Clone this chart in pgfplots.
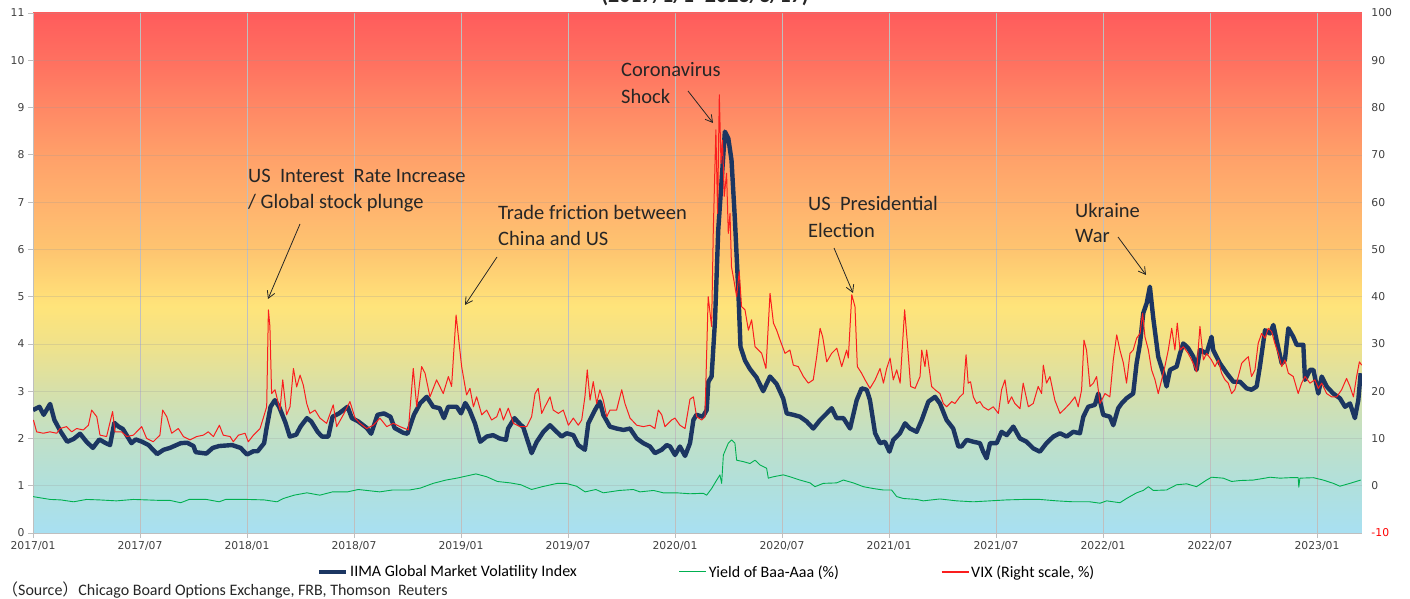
\documentclass[border=0pt]{standalone}
\usepackage{pgfplots}
\pgfplotsset{compat=1.18}
\usepackage{fontspec}
\setmainfont{Carlito}
\newfontfamily\tickfont{DejaVu Sans}
\newfontfamily\cjk{Noto Sans CJK JP}
\usetikzlibrary{arrows.meta}

\definecolor{navy}{RGB}{28,54,98}
\definecolor{vixred}{RGB}{250,30,30}
\definecolor{yldgreen}{RGB}{0,176,80}
\definecolor{tickgray}{RGB}{64,64,64}
\definecolor{gridgray}{RGB}{191,191,191}
\definecolor{annot}{RGB}{38,38,38}

\pgfdeclareverticalshading{bggrad}{100bp}{%
rgb(0bp)=(0.659,0.878,0.949);%
rgb(25bp)=(0.659,0.878,0.949);%
rgb(29.55bp)=(0.690,0.878,0.863);%
rgb(34.09bp)=(0.753,0.878,0.784);%
rgb(38.64bp)=(0.839,0.878,0.667);%
rgb(43.18bp)=(0.941,0.886,0.541);%
rgb(46.82bp)=(1.0,0.894,0.478);%
rgb(52.27bp)=(0.996,0.769,0.439);%
rgb(56.82bp)=(1.0,0.698,0.431);%
rgb(61.36bp)=(1.0,0.627,0.412);%
rgb(65.91bp)=(1.0,0.533,0.396);%
rgb(70.45bp)=(1.0,0.439,0.376);%
rgb(75bp)=(1.0,0.361,0.361);%
rgb(100bp)=(1.0,0.361,0.361)}

\begin{document}
\begin{tikzpicture}
\begin{axis}[
  scale only axis, width=1329pt, height=520pt,
  at={(0pt,0pt)}, anchor=south west,
  xmin=2017, xmax=2023.21, ymin=0, ymax=11,
  axis background/.style={shading=bggrad},
  xtick={2017,2017.5,2018,2018.5,2019,2019.5,2020,2020.5,2021,2021.5,2022,2022.5,2023},
  xticklabels={2017/01,2017/07,2018/01,2018/07,2019/01,2019/07,2020/01,2020/07,2021/01,2021/07,2022/01,2022/07,2023/01},
  ytick={0,1,2,3,4,5,6,7,8,9,10,11},
  yticklabels={0,1,2,3,4,5,6,7,8,9,10,11},
  xmajorgrids, ymajorgrids,
  x grid style={draw=gridgray, line width=0.8pt},
  y grid style={draw=black!40, opacity=0.25, line width=0.6pt},
  axis x line*=bottom, axis y line*=left,
  axis line style={draw=gridgray, line width=0.8pt, -},
  tick align=outside, major tick length=5pt,
  tick style={draw=gridgray, line width=0.8pt},
  xticklabel style={font=\tickfont\fontsize{10.8}{12}\selectfont, text=tickgray},
  yticklabel style={font=\tickfont\fontsize{10.8}{12}\selectfont, text=tickgray},
  clip=true,
]
% Yield of Baa-Aaa (%)
\addplot[yldgreen, line width=0.9pt, line join=round] table {
2017.00 0.77
2017.08 0.71
2017.13 0.70
2017.19 0.66
2017.25 0.71
2017.31 0.70
2017.39 0.68
2017.47 0.71
2017.53 0.70
2017.59 0.69
2017.64 0.69
2017.69 0.64
2017.73 0.71
2017.81 0.71
2017.87 0.66
2017.90 0.71
2018.00 0.71
2018.08 0.70
2018.14 0.66
2018.17 0.73
2018.22 0.80
2018.28 0.85
2018.34 0.80
2018.40 0.87
2018.47 0.87
2018.52 0.92
2018.56 0.90
2018.62 0.87
2018.68 0.91
2018.76 0.91
2018.81 0.95
2018.87 1.05
2018.93 1.12
2018.98 1.16
2019.04 1.22
2019.07 1.25
2019.12 1.19
2019.17 1.09
2019.23 1.06
2019.28 1.02
2019.33 0.92
2019.38 0.98
2019.45 1.05
2019.49 1.05
2019.54 0.99
2019.58 0.87
2019.63 0.92
2019.665 0.85
2019.74 0.90
2019.805 0.92
2019.836 0.87
2019.90 0.90
2019.945 0.85
2020.007 0.85
2020.07 0.83
2020.132 0.84
2020.148 0.80
2020.171 0.94
2020.195 1.12
2020.21 1.23
2020.218 1.05
2020.226 1.65
2020.249 1.90
2020.265 1.97
2020.28 1.90
2020.288 1.54
2020.319 1.51
2020.35 1.47
2020.374 1.54
2020.397 1.44
2020.428 1.37
2020.436 1.16
2020.46 1.19
2020.506 1.23
2020.537 1.19
2020.584 1.12
2020.631 1.06
2020.654 0.98
2020.693 1.05
2020.755 1.06
2020.787 1.12
2020.833 1.06
2020.88 0.98
2020.927 0.94
2020.973 0.91
2021.012 0.91
2021.036 0.77
2021.067 0.73
2021.13 0.71
2021.16 0.68
2021.238 0.72
2021.316 0.68
2021.394 0.66
2021.472 0.68
2021.55 0.70
2021.627 0.71
2021.705 0.71
2021.783 0.68
2021.861 0.66
2021.939 0.66
2021.986 0.63
2022.017 0.68
2022.079 0.64
2022.110 0.73
2022.157 0.85
2022.188 0.90
2022.212 0.98
2022.235 0.90
2022.297 0.91
2022.344 1.02
2022.391 1.04
2022.437 0.98
2022.484 1.12
2022.507 1.18
2022.562 1.16
2022.601 1.09
2022.640 1.11
2022.702 1.12
2022.757 1.16
2022.780 1.18
2022.827 1.16
2022.873 1.17
2022.912 1.17
2022.915 0.97
2022.920 1.16
2022.983 1.17
2023.029 1.12
2023.076 1.05
2023.107 0.99
2023.154 1.05
2023.204 1.12
};
% IIMA Global Market Volatility Index
\addplot[navy, line width=4.4pt, line join=round] table {
2017.00 2.60
2017.03 2.67
2017.05 2.50
2017.08 2.73
2017.10 2.39
2017.13 2.14
2017.16 1.93
2017.19 1.99
2017.22 2.10
2017.25 1.93
2017.28 1.80
2017.31 1.98
2017.34 1.90
2017.36 1.86
2017.38 2.33
2017.40 2.25
2017.42 2.20
2017.46 1.90
2017.48 1.98
2017.51 1.93
2017.54 1.86
2017.58 1.67
2017.61 1.76
2017.64 1.80
2017.69 1.90
2017.72 1.91
2017.75 1.84
2017.76 1.71
2017.81 1.68
2017.84 1.80
2017.87 1.84
2017.93 1.86
2017.97 1.80
2018.00 1.66
2018.03 1.73
2018.05 1.73
2018.08 1.90
2018.09 2.18
2018.11 2.67
2018.13 2.81
2018.15 2.67
2018.18 2.33
2018.20 2.04
2018.23 2.08
2018.25 2.25
2018.28 2.43
2018.30 2.36
2018.33 2.14
2018.35 2.04
2018.38 2.04
2018.40 2.46
2018.43 2.53
2018.47 2.67
2018.49 2.43
2018.52 2.36
2018.56 2.22
2018.58 2.10
2018.61 2.50
2018.64 2.53
2018.67 2.46
2018.69 2.22
2018.73 2.12
2018.75 2.10
2018.78 2.50
2018.81 2.75
2018.84 2.88
2018.87 2.67
2018.90 2.64
2018.92 2.43
2018.94 2.67
2018.98 2.67
2019.00 2.53
2019.02 2.75
2019.04 2.60
2019.065 2.32
2019.09 1.93
2019.12 2.04
2019.15 2.07
2019.18 2.00
2019.21 1.97
2019.22 2.21
2019.25 2.43
2019.28 2.28
2019.29 2.25
2019.315 1.90
2019.33 1.69
2019.354 1.93
2019.385 2.14
2019.416 2.28
2019.447 2.14
2019.47 2.04
2019.494 2.11
2019.525 2.07
2019.548 1.86
2019.579 1.76
2019.595 2.32
2019.626 2.60
2019.649 2.78
2019.665 2.50
2019.696 2.25
2019.727 2.21
2019.759 2.18
2019.79 2.21
2019.821 2.00
2019.852 1.90
2019.883 1.83
2019.906 1.69
2019.938 1.76
2019.961 1.86
2019.977 1.83
2020.00 1.65
2020.023 1.83
2020.047 1.63
2020.07 1.90
2020.086 2.39
2020.10 2.50
2020.13 2.46
2020.148 2.60
2020.156 3.20
2020.171 3.31
2020.187 4.50
2020.202 6.41
2020.218 7.47
2020.233 8.49
2020.249 8.35
2020.264 7.89
2020.28 6.62
2020.296 5.10
2020.306 3.94
2020.327 3.65
2020.35 3.47
2020.381 3.29
2020.412 3.00
2020.444 3.31
2020.475 3.15
2020.506 2.84
2020.522 2.53
2020.553 2.50
2020.584 2.46
2020.615 2.36
2020.646 2.21
2020.678 2.39
2020.709 2.53
2020.732 2.64
2020.755 2.43
2020.787 2.43
2020.818 2.21
2020.849 2.81
2020.872 3.06
2020.896 3.03
2020.911 2.81
2020.935 2.11
2020.958 1.90
2020.981 1.93
2021.002 1.72
2021.02 1.97
2021.051 2.11
2021.075 2.32
2021.098 2.21
2021.129 2.14
2021.153 2.39
2021.184 2.78
2021.215 2.88
2021.238 2.74
2021.269 2.39
2021.30 2.21
2021.324 1.83
2021.339 1.83
2021.363 1.97
2021.394 1.93
2021.425 1.90
2021.44 1.72
2021.456 1.58
2021.472 1.90
2021.503 1.90
2021.526 2.14
2021.55 2.07
2021.581 2.25
2021.612 2.00
2021.643 1.93
2021.674 1.79
2021.705 1.72
2021.736 1.90
2021.768 2.04
2021.799 2.11
2021.83 2.04
2021.861 2.14
2021.892 2.11
2021.908 2.46
2021.931 2.67
2021.962 2.71
2021.978 2.95
2022.001 2.50
2022.032 2.46
2022.048 2.28
2022.071 2.64
2022.087 2.74
2022.11 2.85
2022.141 2.95
2022.157 3.59
2022.173 4.01
2022.188 4.65
2022.204 4.86
2022.219 5.21
2022.235 4.54
2022.258 3.73
2022.282 3.38
2022.297 3.10
2022.313 3.45
2022.344 3.52
2022.36 3.80
2022.375 4.01
2022.398 3.91
2022.422 3.73
2022.437 3.45
2022.453 3.87
2022.484 3.80
2022.507 4.15
2022.515 3.87
2022.546 3.59
2022.578 3.38
2022.609 3.20
2022.64 3.20
2022.671 3.06
2022.694 3.03
2022.718 3.10
2022.733 3.52
2022.757 4.29
2022.78 4.22
2022.796 4.40
2022.811 4.08
2022.835 3.59
2022.85 3.66
2022.866 4.33
2022.889 4.15
2022.905 3.98
2022.936 3.98
2022.944 3.24
2022.967 3.45
2022.983 3.45
2023.006 2.95
2023.022 3.31
2023.045 3.10
2023.076 2.95
2023.107 2.85
2023.131 2.67
2023.154 2.74
2023.177 2.43
2023.193 2.81
2023.204 3.38
};
\end{axis}

\begin{axis}[
  scale only axis, width=1329pt, height=520pt,
  at={(0pt,0pt)}, anchor=south west,
  xmin=2017, xmax=2023.21, ymin=-10, ymax=100,
  axis x line=none, axis y line*=right,
  y axis line style={draw=none},
  ytick={-10,0,10,20,30,40,50,60,70,80,90,100},
  yticklabels={\textcolor{red}{-10},0,10,20,30,40,50,60,70,80,90,100},
  major tick length=0pt,
  yticklabel style={font=\tickfont\fontsize{10.8}{12}\selectfont, text=tickgray, xshift=6pt},
  legend style={at={(axis description cs:0.507,-0.075)}, anchor=center,
    draw=none, fill=none, legend columns=3,
    font=\fontsize{16}{19}\selectfont,
    /tikz/every even column/.append style={column sep=100pt},
    nodes={inner sep=2pt}},
]
\addlegendimage{legend image code/.code={\draw[navy, line width=4pt] (0pt,0pt) -- (27pt,0pt);}}
\addlegendentry{IIMA Global Market Volatility Index}
\addlegendimage{legend image code/.code={\draw[yldgreen, line width=1pt] (0pt,0pt) -- (27pt,0pt);}}
\addlegendentry{Yield of Baa-Aaa (\%)}
\addlegendimage{legend image code/.code={\draw[vixred, line width=1.2pt] (0pt,0pt) -- (27pt,0pt);}}
\addlegendentry{VIX (Right scale, \%)}
% VIX (right scale)
\addplot[vixred, line width=1pt, line join=round, forget plot] table {
2017.002 13.9
2017.017 11.4
2017.048 11.1
2017.079 11.4
2017.111 11.1
2017.126 12.1
2017.157 12.5
2017.181 11.4
2017.204 12.1
2017.235 11.8
2017.259 12.8
2017.274 16.0
2017.298 14.6
2017.313 10.7
2017.344 10.4
2017.372 15.7
2017.383 11.4
2017.414 11.4
2017.438 10.4
2017.469 10.7
2017.508 12.5
2017.531 10.0
2017.562 9.3
2017.593 10.7
2017.606 16.0
2017.625 14.6
2017.648 11.1
2017.679 12.1
2017.703 10.4
2017.734 9.7
2017.765 10.4
2017.796 10.7
2017.819 11.4
2017.843 10.4
2017.871 12.8
2017.889 10.7
2017.921 10.4
2017.936 9.3
2017.960 10.7
2017.991 11.1
2018.006 9.3
2018.030 10.7
2018.061 12.1
2018.076 14.3
2018.092 16.7
2018.100 37.2
2018.107 33.7
2018.115 19.5
2018.131 20.3
2018.154 16.0
2018.167 22.4
2018.185 15.0
2018.201 16.7
2018.217 24.8
2018.232 20.9
2018.248 23.4
2018.263 21.3
2018.279 17.4
2018.294 15.3
2018.318 16.0
2018.341 14.3
2018.372 13.2
2018.403 17.1
2018.419 12.5
2018.450 15.0
2018.481 17.8
2018.505 14.3
2018.528 13.2
2018.559 12.1
2018.590 12.8
2018.621 14.3
2018.653 12.5
2018.684 13.2
2018.715 12.5
2018.754 11.8
2018.777 24.8
2018.793 16.7
2018.816 25.2
2018.832 23.8
2018.855 18.8
2018.886 22.4
2018.917 19.5
2018.941 23.1
2018.956 21.0
2018.977 36.1
2019.003 25.2
2019.026 19.2
2019.042 20.6
2019.058 16.7
2019.073 18.8
2019.097 15.0
2019.120 16.0
2019.143 13.9
2019.167 14.6
2019.182 16.4
2019.198 13.9
2019.221 16.4
2019.245 13.2
2019.276 12.5
2019.307 12.5
2019.330 14.6
2019.346 19.5
2019.361 20.6
2019.377 15.3
2019.392 16.7
2019.416 18.8
2019.431 16.0
2019.455 15.3
2019.478 16.0
2019.502 12.8
2019.525 14.3
2019.548 12.8
2019.564 13.9
2019.579 18.8
2019.590 24.5
2019.603 18.1
2019.618 22.0
2019.634 17.4
2019.649 20.3
2019.665 18.1
2019.681 14.6
2019.696 16.0
2019.727 16.0
2019.751 20.3
2019.766 17.4
2019.790 14.3
2019.821 12.8
2019.852 12.5
2019.883 12.8
2019.906 12.1
2019.922 16.0
2019.938 15.0
2019.953 12.5
2019.984 13.9
2020.000 14.3
2020.023 12.8
2020.047 12.1
2020.070 18.3
2020.086 18.8
2020.101 14.6
2020.125 13.9
2020.140 14.6
2020.155 40.0
2020.171 33.7
2020.179 54.1
2020.191 75.3
2020.199 57.6
2020.207 82.7
2020.215 68.2
2020.222 73.1
2020.230 61.2
2020.241 66.1
2020.249 53.4
2020.257 57.6
2020.264 46.3
2020.275 43.5
2020.288 40.0
2020.300 45.3
2020.311 37.9
2020.327 37.2
2020.343 32.9
2020.358 35.1
2020.374 29.4
2020.390 28.7
2020.405 28.0
2020.425 24.8
2020.444 40.7
2020.460 34.4
2020.475 32.9
2020.491 30.8
2020.514 28.0
2020.537 28.7
2020.553 25.5
2020.576 25.2
2020.600 23.1
2020.623 21.7
2020.646 22.4
2020.662 27.3
2020.678 33.3
2020.690 31.5
2020.709 26.2
2020.732 28.0
2020.756 29.1
2020.779 25.2
2020.802 28.7
2020.810 27.0
2020.826 40.4
2020.841 37.9
2020.852 25.2
2020.872 23.8
2020.888 22.4
2020.911 20.6
2020.935 22.4
2020.958 24.8
2020.974 21.7
2020.989 24.8
2021.005 27.0
2021.020 22.4
2021.036 24.5
2021.052 21.7
2021.073 37.2
2021.086 30.1
2021.101 21.0
2021.122 20.6
2021.145 23.1
2021.153 28.7
2021.168 25.2
2021.176 28.7
2021.199 21.0
2021.215 20.3
2021.238 19.5
2021.254 17.4
2021.269 16.7
2021.293 17.8
2021.308 17.4
2021.331 18.8
2021.347 19.5
2021.360 27.7
2021.370 21.7
2021.381 22.0
2021.394 18.8
2021.409 17.4
2021.425 17.8
2021.440 16.7
2021.464 16.0
2021.487 16.7
2021.511 15.3
2021.526 20.3
2021.542 22.4
2021.557 17.4
2021.573 18.8
2021.588 17.4
2021.612 16.3
2021.627 21.7
2021.651 16.7
2021.674 17.4
2021.697 21.0
2021.713 19.5
2021.721 25.5
2021.736 21.7
2021.752 23.1
2021.775 18.1
2021.799 15.3
2021.822 16.3
2021.845 17.4
2021.869 18.8
2021.884 16.7
2021.900 20.3
2021.911 30.8
2021.923 28.7
2021.939 21.0
2021.955 21.7
2021.970 23.1
2021.986 17.4
2022.009 19.5
2022.032 18.8
2022.048 26.6
2022.064 31.9
2022.079 28.7
2022.095 26.0
2022.110 21.7
2022.126 28.0
2022.141 28.7
2022.157 31.2
2022.173 32.2
2022.185 36.5
2022.196 31.5
2022.212 28.7
2022.227 24.5
2022.243 22.4
2022.258 19.5
2022.274 22.4
2022.289 25.2
2022.305 28.7
2022.321 33.3
2022.336 28.7
2022.347 34.4
2022.360 28.7
2022.375 29.4
2022.398 28.0
2022.422 25.9
2022.437 24.1
2022.453 33.7
2022.469 26.6
2022.484 28.0
2022.507 26.6
2022.523 25.2
2022.539 26.6
2022.554 23.8
2022.570 22.4
2022.585 21.7
2022.601 19.5
2022.616 20.3
2022.632 23.1
2022.648 25.9
2022.663 26.6
2022.679 27.3
2022.694 23.1
2022.710 24.5
2022.725 30.1
2022.741 32.2
2022.757 31.2
2022.772 33.3
2022.788 32.6
2022.803 30.1
2022.819 28.0
2022.835 25.2
2022.850 26.6
2022.866 23.8
2022.889 23.1
2022.912 19.5
2022.928 21.7
2022.944 23.1
2022.967 21.7
2022.990 22.4
2023.006 20.6
2023.022 21.7
2023.045 19.5
2023.068 18.8
2023.092 18.8
2023.115 20.3
2023.138 22.7
2023.154 21.0
2023.170 18.8
2023.185 23.1
2023.198 26.2
2023.209 25.5
};
\end{axis}

% annotations, placed in picture pixels (x right, y down from top-left of the image)
\begin{scope}[x=1pt, y=-1pt, xshift=-33pt, yshift=533pt,
  every node/.style={inner sep=0pt, text=annot}]
  \node[anchor=base, font=\bfseries\fontsize{22}{24}\selectfont] at (705,3) {(2017/1/1\textasciitilde 2023/3/17)};
  \begin{scope}[every node/.append style={anchor=west, font=\fontsize{20.5}{24}\selectfont}]
    \node at (248,176) {US\ \ Interest\ \ Rate Increase};
    \node at (248,203) {/ Global stock plunge};
    \node at (498,212) {Trade friction between};
    \node at (498,238) {China and US};
    \node at (621,70) {Coronavirus};
    \node at (621,96) {Shock};
    \node at (808,203) {US\ \ Presidential};
    \node at (808,230) {Election};
    \node at (1075,210) {Ukraine};
    \node at (1075,236) {War};
  \end{scope}
  \begin{scope}[draw=annot, line width=0.8pt, -{Straight Barb[length=7pt,width=8pt]}]
    \draw (300,224) -- (268,299);
    \draw (497,257) -- (465,305);
    \draw (688,91) -- (713,123);
    \draw (834,248) -- (853,293);
    \draw (1118,237) -- (1146,275);
  \end{scope}
  \node[anchor=west, font=\fontsize{16}{19}\selectfont] at (2,590)
    {{\cjk （}Source{\cjk ）}Chicago Board Options Exchange, FRB, Thomson\ \ Reuters};
\end{scope}
\pgfresetboundingbox
\useasboundingbox (-33pt,-66pt) rectangle (1377pt,533pt);
\end{tikzpicture}
\end{document}
